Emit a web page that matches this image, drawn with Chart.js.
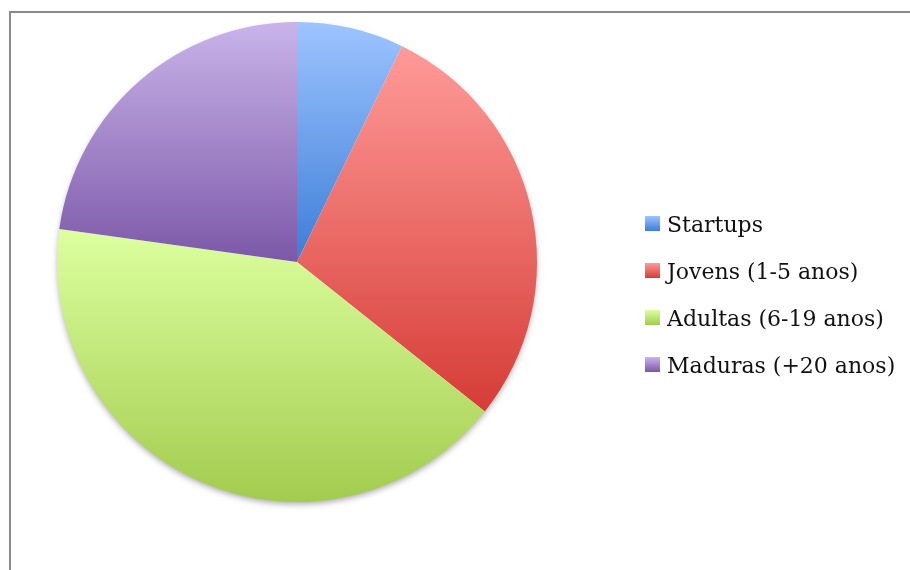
<!DOCTYPE html>
<html>
<head>
<meta charset="utf-8">
<script src="https://cdn.jsdelivr.net/npm/chart.js@4"></script>
<style>
  html, body { margin: 0; padding: 0; background: #fff; }
  #wrap { width: 910px; height: 570px; position: relative; }
</style>
</head>
<body>
<div id="wrap"><canvas id="graficaEmpresas"></canvas></div>
<script>
const categorias = ['Startups', 'Jovens (1-5 anos)', 'Adultas (6-19 anos)', 'Maduras (+20 anos)'];
const valores = [7.2, 28.5, 41.5, 22.8];
// claro em cima, escuro em baixo
const coresTopo = ['#9dc4ff', '#ff9b99', '#ddffa0', '#c9b4ea'];
const coresBase = ['#3c7dd6', '#d63c36', '#a2cc4e', '#7c58a8'];

// extensão vertical de cada fatia, para o degradê de cada uma
function faixaVertical(area, i) {
  const cx = (area.left + area.right) / 2;
  const cy = (area.top + area.bottom) / 2;
  const r = Math.min(area.width, area.height) / 2;
  const total = valores.reduce((a, b) => a + b, 0);
  let ini = -Math.PI / 2;
  for (let k = 0; k < i; k++) ini += valores[k] / total * Math.PI * 2;
  const fim = ini + valores[i] / total * Math.PI * 2;
  const ys = [cy, cy + r * Math.sin(ini), cy + r * Math.sin(fim)];
  [-Math.PI / 2, Math.PI / 2, Math.PI * 1.5].forEach((a) => {
    if (a >= ini && a <= fim) ys.push(cy + r * Math.sin(a));
  });
  return [Math.min(...ys), Math.max(...ys)];
}

function corFatia(context) {
  const chart = context.chart;
  const i = context.dataIndex;
  const area = chart.chartArea;
  if (!area) return coresBase[i];
  const [y0, y1] = faixaVertical(area, i);
  const g = chart.ctx.createLinearGradient(0, y0, 0, y1);
  g.addColorStop(0, coresTopo[i]);
  g.addColorStop(1, coresBase[i]);
  return g;
}

// moldura cinza, sombra da pizza e legenda
const extras = {
  id: 'extras',
  beforeDraw(chart) {
    const ctx = chart.ctx;
    ctx.save();
    ctx.strokeStyle = '#8a8a8a';
    ctx.lineWidth = 2;
    ctx.beginPath();
    ctx.moveTo(10, 580);
    ctx.lineTo(10, 12);
    ctx.lineTo(920, 12);
    ctx.stroke();
    ctx.restore();
  },
  beforeDatasetsDraw(chart) {
    const arco = chart.getDatasetMeta(0).data[0];
    if (!arco) return;
    const ctx = chart.ctx;
    ctx.save();
    ctx.shadowColor = 'rgba(0,0,0,0.35)';
    ctx.shadowBlur = 6;
    ctx.shadowOffsetY = 3;
    ctx.fillStyle = '#fff';
    ctx.beginPath();
    ctx.arc(arco.x, arco.y, arco.outerRadius - 1, 0, Math.PI * 2);
    ctx.fill();
    ctx.restore();
  },
  afterDraw(chart) {
    const ctx = chart.ctx;
    ctx.save();
    ctx.font = '22px "DejaVu Serif"';
    ctx.textBaseline = 'alphabetic';
    categorias.forEach((nome, i) => {
      const y = 216 + i * 47;
      const g = ctx.createLinearGradient(0, y, 0, y + 15);
      g.addColorStop(0, coresTopo[i]);
      g.addColorStop(1, coresBase[i]);
      ctx.fillStyle = g;
      ctx.fillRect(645, y, 15, 15);
      ctx.fillStyle = '#111';
      ctx.fillText(nome, 667, y + 16);
    });
    ctx.restore();
  }
};

new Chart(document.getElementById('graficaEmpresas'), {
  type: 'pie',
  data: {
    labels: categorias,
    datasets: [{
      data: valores,
      backgroundColor: corFatia,
      borderWidth: 0
    }]
  },
  options: {
    responsive: true,
    maintainAspectRatio: false,
    animation: false,
    layout: { padding: { left: 57, top: 22, right: 373, bottom: 68 } },
    plugins: {
      legend: { display: false },
      tooltip: { enabled: false }
    }
  },
  plugins: [extras]
});
</script>
</body>
</html>
